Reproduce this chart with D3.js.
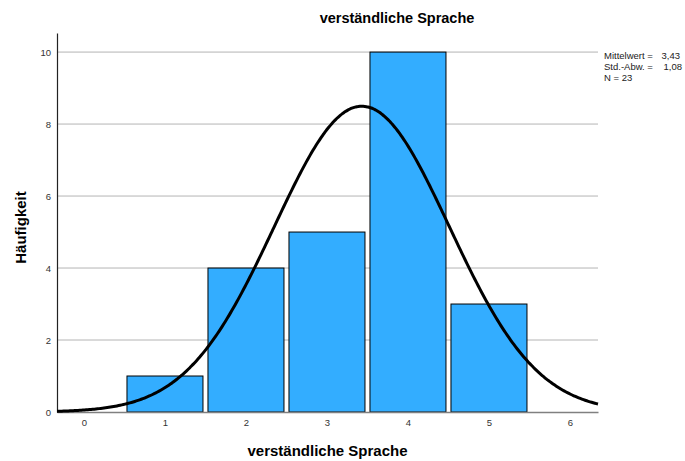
<!DOCTYPE html>
<html><head><meta charset="utf-8">
<script src="https://cdn.jsdelivr.net/npm/d3@7"></script>
<style>body{margin:0;background:#fff}svg{display:block;font-family:"Liberation Sans",Arial,sans-serif}</style>
</head><body><svg id="c" width="685" height="461"></svg>
<script>
const categories = [1, 2, 3, 4, 5];
const counts = [1, 4, 5, 10, 3];
const xTicks = [0, 1, 2, 3, 4, 5, 6];
const yTicks = [0, 2, 4, 6, 8, 10];
const stats = {mean: 3.43, sd: 1.08, n: 23};
const statLabels = ["Mittelwert =", "Std.-Abw. =", "N = 23"];
const statValues = ["3,43", "1,08", ""];

const svg = d3.select("#c");
const L = 57, R = 598, T = 33, B = 412;
const x = d3.scaleLinear().domain([-0.333, 6.346]).range([L, R]);
const y = d3.scaleLinear().domain([0, 10.53]).range([B, T]);

// gridlines
svg.append("g").selectAll("line").data(yTicks.filter(d => d > 0)).join("line")
  .attr("x1", L).attr("x2", R).attr("y1", d => y(d)).attr("y2", d => y(d))
  .attr("stroke", "#b4b4b4").attr("stroke-width", 1);

// bars
svg.append("g").selectAll("rect").data(categories).join("rect")
  .attr("x", (d) => x(d - 0.5) + 2.5)
  .attr("width", (d) => x(d + 0.5) - x(d - 0.5) - 5)
  .attr("y", (d, i) => y(counts[i]))
  .attr("height", (d, i) => y(0) - y(counts[i]))
  .attr("fill", "#33adff").attr("stroke", "#000").attr("stroke-width", 1);

// x axis
const xAxis = svg.append("g").attr("transform", `translate(0,${B})`)
  .call(d3.axisBottom(x).tickValues(xTicks).tickSize(0).tickPadding(7).tickFormat(d3.format("d")));
xAxis.select(".domain").attr("stroke", "#808080").attr("stroke-width", 1.5);
xAxis.selectAll("text").attr("font-size", 9.5).attr("fill", "#333").attr("font-family", "Liberation Sans, Arial, sans-serif");

// y axis
const yAxis = svg.append("g").attr("transform", `translate(${L},0)`)
  .call(d3.axisLeft(y).tickValues(yTicks).tickSize(0).tickPadding(6).tickFormat(d3.format("d")));
yAxis.select(".domain").attr("stroke", "#222").attr("stroke-width", 1.2);
yAxis.selectAll("text").attr("font-size", 9.5).attr("fill", "#333").attr("font-family", "Liberation Sans, Arial, sans-serif");

// normal curve
const pdf = v => stats.n / (stats.sd * Math.sqrt(2 * Math.PI)) * Math.exp(-0.5 * ((v - stats.mean) / stats.sd) ** 2);
const xs = d3.range(-0.333, 6.346, 0.02).concat([6.346]);
svg.append("path").datum(xs)
  .attr("d", d3.line().x(d => x(d)).y(d => y(pdf(d))).curve(d3.curveBasis))
  .attr("fill", "none").attr("stroke", "#000").attr("stroke-width", 3);

// titles
svg.append("text").attr("x", 397).attr("y", 23).attr("text-anchor", "middle")
  .attr("font-size", 14.5).attr("font-weight", "bold").text("verständliche Sprache");
svg.append("text").attr("x", (L + R) / 2).attr("y", 456).attr("text-anchor", "middle")
  .attr("font-size", 15).attr("font-weight", "bold").text("verständliche Sprache");
svg.append("text").attr("transform", `translate(26,${(T + B) / 2 + 5}) rotate(-90)`).attr("text-anchor", "middle")
  .attr("font-size", 15).attr("font-weight", "bold").text("Häufigkeit");

// stats box
const sg = svg.append("g").attr("font-size", 9.5).attr("fill", "#222");
sg.selectAll("text.l").data(statLabels).join("text").attr("class", "l")
  .attr("x", 604).attr("y", (d, i) => 59 + i * 11).text(d => d);
sg.selectAll("text.v").data(statValues).join("text").attr("class", "v")
  .attr("x", (d, i) => i === 0 ? 680 : 682).attr("y", (d, i) => 59 + i * 11).attr("text-anchor", "end").text(d => d);
</script></body></html>
